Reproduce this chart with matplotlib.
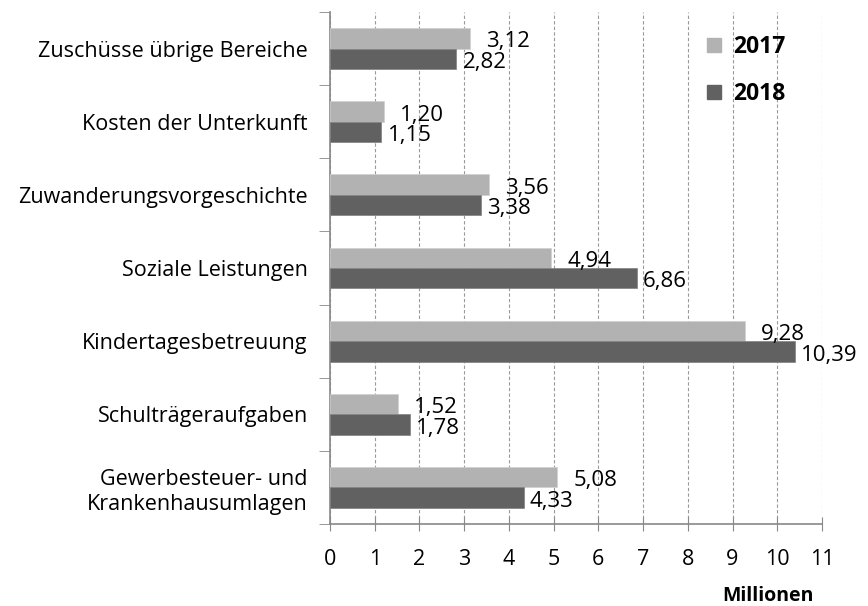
import matplotlib.pyplot as plt
import numpy as np
from matplotlib.lines import Line2D

plt.rcParams['font.family'] = ['Open Sans', 'DejaVu Sans']

categories = ["Zuschüsse übrige Bereiche", "Kosten der Unterkunft", "Zuwanderungsvorgeschichte",
              "Soziale Leistungen", "Kindertagesbetreuung", "Schulträgeraufgaben",
              "Gewerbesteuer- und\nKrankenhausumlagen"]
vals_2017 = [3.12, 1.20, 3.56, 4.94, 9.28, 1.52, 5.08]
vals_2018 = [2.82, 1.15, 3.38, 6.86, 10.39, 1.78, 4.33]
years = ["2017", "2018"]
colors = ["#b2b2b2", "#616161"]

fig = plt.figure(figsize=(8.68, 6.06), dpi=100)
ax = fig.add_axes([330 / 868, 1 - 524 / 606, 492 / 868, 512 / 606])

n = len(categories)
y = np.arange(n)[::-1].astype(float)
h = 0.28
ax.barh(y + h / 2, vals_2017, height=h, color=colors[0], edgecolor="#d0d0d0", linewidth=0.5, zorder=3)
ax.barh(y - h / 2, vals_2018, height=h, color=colors[1], edgecolor="#808080", linewidth=0.5, zorder=3)

def fmt(v):
    return f"{v:.2f}".replace(".", ",")

for yi, a, b in zip(y, vals_2017, vals_2018):
    ax.text(a + 0.36, yi + h / 2 - 0.05, fmt(a), va="center", ha="left", fontsize=16)
    ax.text(b + 0.14, yi - h / 2 - 0.05, fmt(b), va="center", ha="left", fontsize=16)

ax.set_xlim(0, 11)
ax.set_ylim(-0.5, n - 0.5)
ax.set_xticks(range(12))
ax.set_xticklabels([str(i) for i in range(12)], fontsize=15.5)
ax.set_yticks(y)
ax.set_yticklabels(categories, fontsize=15.5, linespacing=1.25)
ax.set_yticks(np.arange(n + 1) - 0.5, minor=True)
ax.tick_params(axis="y", which="major", length=0, pad=16)
ax.tick_params(axis="y", which="minor", length=8, color="#888888", direction="out")
ax.tick_params(axis="x", length=10, color="#888888", direction="inout", pad=13)
ax.xaxis.grid(True, linestyle=(0, (3, 2)), color="#999999", linewidth=0.8, zorder=0)
for s in ["top", "right"]:
    ax.spines[s].set_visible(False)
for s in ["left", "bottom"]:
    ax.spines[s].set_color("#888888")
    ax.spines[s].set_linewidth(1.2)

handles = [Line2D([], [], marker="s", linestyle="none", markersize=10, color=c) for c in colors]
leg = ax.legend(handles, years, loc="upper left", bbox_to_anchor=(0.715, 0.995), frameon=False,
                prop={"weight": "bold", "size": 16.5}, labelspacing=1.0, handletextpad=0.35,
                handlelength=1.0)
leg.set_zorder(5)

fig.text(768 / 868, 1 - 596 / 606, "Millionen", ha="center", va="center", fontsize=14, fontweight="bold")

fig.savefig("out.png", dpi=100, facecolor="white")
